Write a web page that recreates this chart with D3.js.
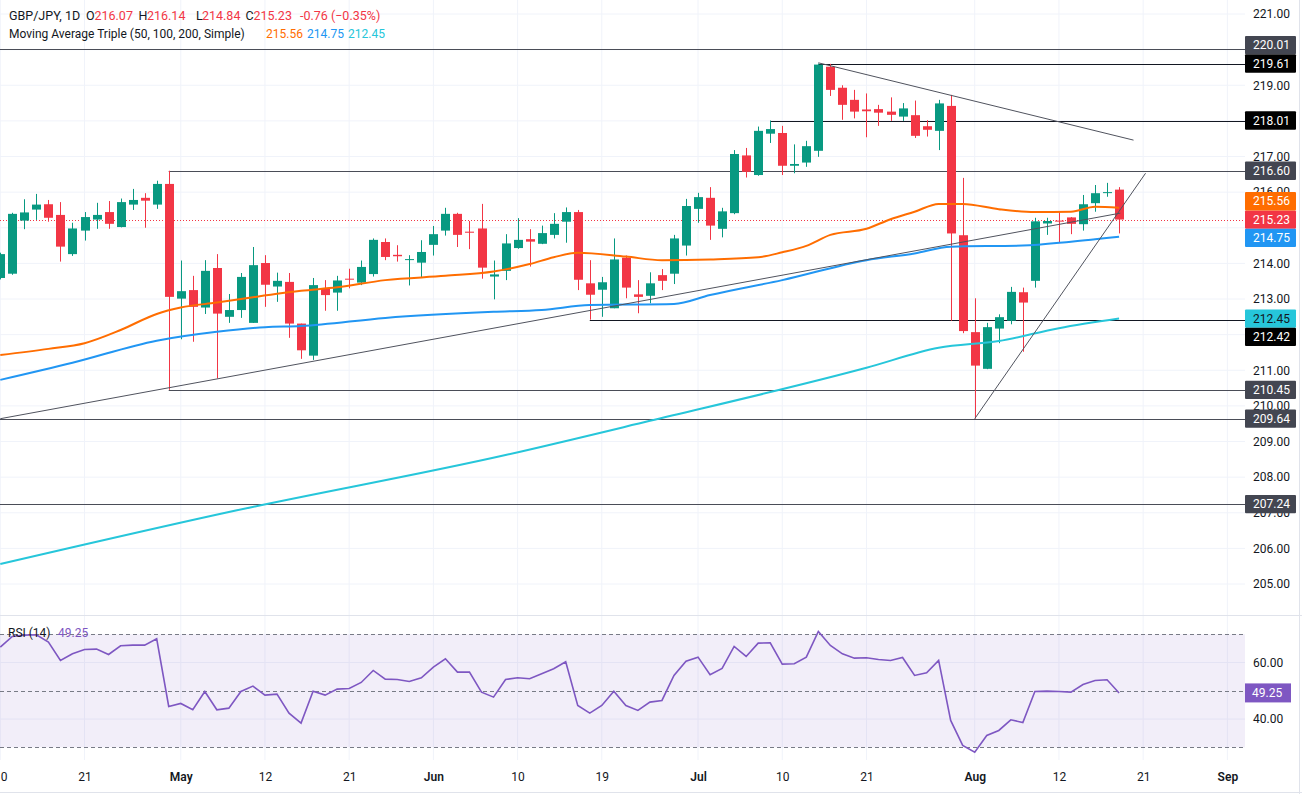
<!DOCTYPE html>
<html>
<head>
<meta charset="utf-8">
<script src="https://cdn.jsdelivr.net/npm/d3@7"></script>
<style>
  body { margin: 0; background: #ffffff; }
  #chart text { font-family: Roboto, "DejaVu Sans", sans-serif; }
</style>
</head>
<body>
<div id="chart"></div>
<script>

// daily GBP/JPY candles, one entry per trading day
var opens = [213.59, 213.71, 215.20, 215.51, 215.66, 215.36, 214.26, 214.92, 215.23, 215.44, 215.02, 215.65, 215.84, 215.65,
    216.23, 213.01, 213.25, 212.76, 213.87, 212.50, 212.69, 212.33, 214.01, 213.35, 213.48, 212.31,
    211.41, 213.28, 213.18, 213.57, 213.46, 213.70, 214.60, 214.24, 214.10, 214.02, 214.52, 214.92, 215.39, 214.89,
    214.98, 213.63, 213.79, 214.43, 214.68, 214.55, 214.80, 215.17, 215.44, 213.44, 213.26, 212.74, 214.16, 213.13, 213.09, 213.67,
    213.71, 214.50, 215.53, 215.84, 214.97, 215.41, 217.03, 216.48, 217.64, 217.66, 216.74, 216.83,
    217.16, 219.52, 218.93, 218.59, 218.32, 218.33, 218.26, 218.12, 218.16, 217.85, 217.72,
    218.42, 214.79, 212.07, 211.04, 212.17, 212.39, 213.19, 213.51, 215.12, 215.20, 215.29, 215.10, 215.69, 215.98, 216.07];
var highs = [214.30, 215.42, 215.80, 215.95, 215.78, 215.72, 215.14, 215.44, 215.70, 215.75, 215.82, 216.09, 215.97, 216.32,
    216.60, 214.08, 213.65, 214.09, 214.26, 213.14, 213.73, 214.46, 214.23, 213.74, 213.73, 212.31,
    213.59, 213.53, 213.65, 213.85, 214.08, 214.70, 214.70, 214.51, 214.23, 214.65, 215.05, 215.56, 215.42, 215.19,
    215.67, 214.08, 214.82, 215.27, 214.96, 215.06, 215.41, 215.57, 215.50, 214.09, 213.62, 214.70, 214.22, 213.53, 213.75, 213.84,
    214.80, 215.81, 215.98, 216.14, 215.56, 217.18, 217.24, 217.84, 218.01, 217.86, 217.34, 217.44,
    219.61, 219.60, 219.00, 218.87, 218.77, 218.45, 218.66, 218.50, 218.57, 218.02, 218.59,
    218.73, 216.40, 213.02, 212.33, 212.57, 213.34, 213.32, 215.28, 215.28, 215.45, 215.30, 215.92, 216.20, 216.26, 216.14];
var lows = [213.55, 213.68, 214.96, 215.22, 215.17, 214.05, 214.21, 214.64, 214.97, 214.97, 215.01, 215.50, 215.00, 215.53,
    210.45, 211.87, 211.80, 212.58, 210.77, 212.33, 212.47, 212.33, 212.78, 212.92, 211.91, 211.32,
    211.29, 212.67, 212.67, 213.30, 213.39, 213.63, 214.09, 214.05, 213.38, 213.61, 214.22, 214.78, 214.46, 214.40,
    213.57, 212.99, 213.53, 214.41, 213.91, 214.54, 214.70, 214.58, 213.25, 212.42, 212.50, 212.74, 213.02, 212.60, 212.88, 213.25,
    213.42, 214.22, 215.14, 214.66, 214.73, 215.38, 216.41, 216.46, 217.38, 216.48, 216.53, 216.71,
    216.99, 218.70, 218.03, 218.07, 217.54, 217.86, 218.00, 218.00, 217.52, 217.56, 217.18,
    212.39, 212.04, 209.64, 211.03, 211.76, 212.29, 211.52, 213.32, 214.80, 214.58, 214.82, 214.92, 215.45, 215.87, 214.84];
var closes = [214.26, 215.39, 215.43, 215.65, 215.28, 214.47, 214.98, 215.30, 215.36, 215.11, 215.72, 215.78, 215.76, 216.23,
    213.06, 213.22, 212.78, 213.79, 212.59, 212.69, 213.62, 213.95, 213.40, 213.51, 212.31, 211.56,
    213.39, 213.11, 213.52, 213.55, 213.90, 214.66, 214.18, 214.20, 214.12, 214.32, 214.82, 215.39, 214.80, 214.86,
    213.88, 213.69, 214.56, 214.66, 214.61, 214.85, 215.11, 215.44, 213.54, 213.12, 213.47, 214.11, 213.32, 213.06, 213.44, 213.51,
    214.70, 215.61, 215.86, 215.06, 215.46, 217.07, 216.57, 217.72, 217.77, 216.74, 216.79, 217.29,
    219.58, 218.87, 218.45, 218.26, 218.27, 218.23, 218.17, 218.35, 217.58, 217.75, 218.49,
    214.84, 212.10, 211.13, 212.21, 212.49, 213.20, 212.90, 215.18, 215.19, 215.18, 215.11, 215.66, 215.97, 216.00, 215.23];

// RSI(14), one value per candle
var rsiValues = [65.46, 69.23, 69.70, 69.82, 67.23, 60.74, 63.10, 64.63, 64.75, 62.86, 65.93, 66.17, 66.17, 68.41,
    44.45, 45.52, 43.27, 49.76, 43.27, 43.86, 49.76, 51.65, 48.47, 48.82, 42.09, 38.55,
    49.88, 48.47, 50.59, 50.83, 52.95, 57.20, 54.13, 54.01, 53.30, 54.60, 58.38, 61.33, 56.61, 56.61,
    49.53, 47.76, 54.01, 54.60, 54.25, 56.02, 57.79, 60.27, 44.81, 42.09, 44.81, 49.88, 44.81, 43.04, 45.99, 46.58,
    55.43, 60.50, 61.92, 55.66, 57.91, 65.69, 62.15, 66.87, 66.99, 59.44, 59.56, 61.92,
    71.00, 66.05, 63.10, 61.56, 61.68, 61.09, 60.74, 61.80, 55.43, 56.37, 60.74,
    39.50, 30.65, 28.29, 34.19, 35.96, 39.73, 38.79, 49.76, 49.88, 49.76, 49.53, 52.24, 53.66, 53.89, 49.25];

// moving averages at a few candles
var ma50Idx = [0, 4, 7, 10, 13, 15, 18, 21, 25, 28, 32, 37, 41, 44, 46, 48, 52, 55, 59, 63, 65, 67, 69, 72, 74, 76, 78, 80, 83, 86, 89, 91, 93];
var ma50 = [211.43, 211.60, 211.76, 212.13, 212.58, 212.76, 212.90, 213.05, 213.23, 213.33, 213.53, 213.65, 213.77, 213.98, 214.17, 214.30,
    214.19, 214.09, 214.11, 214.17, 214.31, 214.49, 214.80, 214.97, 215.24, 215.45, 215.67, 215.67, 215.52, 215.44, 215.45, 215.59, 215.56];
var ma100Idx = [0, 6, 13, 18, 22, 25, 32, 41, 45, 49, 56, 59, 65, 72, 76, 79, 85, 89, 93];
var ma100 = [210.73, 211.21, 211.83, 212.08, 212.21, 212.24, 212.47, 212.64, 212.69, 212.83, 212.86, 213.11, 213.53, 214.09, 214.28, 214.47, 214.50, 214.61, 214.75];
var ma200Idx = [0, 19, 42, 54, 72, 78, 83, 88, 93];
var ma200 = [205.56, 207.02, 208.62, 209.58, 211.07, 211.63, 211.82, 212.18, 212.45];

// x axis ticks (candle index -> label)
var tickIdx = [0, 7, 15, 22, 29, 36, 43, 50, 58, 65, 72, 81, 88, 95, 102];
var tickLabels = ["10", "21", "May", "12", "21", "Jun", "10", "19", "Jul", "10", "21", "Aug", "12", "21", "Sep"];
var priceTicks = [205, 206, 207, 208, 209, 210, 211, 212, 213, 214, 215, 216, 217, 218, 219, 220, 221];
var rsiTicks = [40, 60];

// horizontal levels drawn on the chart and the candle they start from
var levelValues = [220.01, 219.61, 218.01, 216.60, 212.42, 210.45, 209.64, 207.24];
var levelStart = [-2, 68, 64, 14, 49, 14, -2, -2];
var levelDark = [false, true, true, false, true, false, false, false];

// trend lines: [index1, price1, index2, price2]
var trendLines = [
    [0, 209.64, 93.1, 215.41],
    [81, 209.64, 95.2, 216.53],
    [68, 219.63, 94.2, 217.46]
];

var lastPrice = 215.23;

var W = 1302, H = 794;
var plotRight = 1245;
var paneBottom = 615;

var green = "#089981", red = "#f23645";
var cOrange = "#ff6d00", cBlue = "#2196f3", cCyan = "#26c6da", cRsi = "#7e57c2";

var candles = closes.map(function (c, i) {
    return {i: i, o: opens[i], h: highs[i], l: lows[i], c: c};
});

var x = d3.scaleLinear().domain([0, 93]).range([0.3, 0.3 + 12.03 * 93]);
var y = d3.scaleLinear().domain([205, 221]).range([584, 14]);
var yRsi = d3.scaleLinear().domain([30, 70]).range([747.3, 634.3]);

var svg = d3.select("#chart").append("svg")
    .attr("width", W)
    .attr("height", H)
    .style("display", "block");

svg.append("rect").attr("width", W).attr("height", H).attr("fill", "#ffffff");

var defs = svg.append("defs");
defs.append("clipPath").attr("id", "clipPrice")
    .append("rect").attr("x", 0).attr("y", 0).attr("width", plotRight).attr("height", paneBottom);
defs.append("clipPath").attr("id", "clipRsi")
    .append("rect").attr("x", 0).attr("y", paneBottom + 2).attr("width", plotRight).attr("height", 760 - paneBottom - 2);

// grid
var grid = svg.append("g").attr("class", "grid");
grid.selectAll(".vgrid")
    .data(tickIdx)
    .enter().append("line")
    .attr("x1", function (d) { return x(d); })
    .attr("x2", function (d) { return x(d); })
    .attr("y1", 0)
    .attr("y2", 760)
    .attr("stroke", "#f0f3fa");
grid.selectAll(".hgrid")
    .data(priceTicks)
    .enter().append("line")
    .attr("x1", 0)
    .attr("x2", plotRight)
    .attr("y1", function (d) { return y(d); })
    .attr("y2", function (d) { return y(d); })
    .attr("stroke", "#f0f3fa")
    .attr("clip-path", "url(#clipPrice)");
grid.selectAll(".rgrid")
    .data(rsiTicks)
    .enter().append("line")
    .attr("x1", 0)
    .attr("x2", plotRight)
    .attr("y1", function (d) { return yRsi(d); })
    .attr("y2", function (d) { return yRsi(d); })
    .attr("stroke", "#f0f3fa");

// pane separators
svg.append("line").attr("x1", 0).attr("x2", W).attr("y1", paneBottom + 0.5).attr("y2", paneBottom + 0.5)
    .attr("stroke", "#e0e3eb");
svg.append("line").attr("x1", 0).attr("x2", W).attr("y1", 792.5).attr("y2", 792.5)
    .attr("stroke", "#e0e3eb");
svg.append("line").attr("x1", 1299.5).attr("x2", 1299.5).attr("y1", 0).attr("y2", H)
    .attr("stroke", "#e0e3eb");

var price = svg.append("g").attr("clip-path", "url(#clipPrice)");

// levels
price.selectAll(".level")
    .data(levelValues)
    .enter().append("line")
    .attr("class", "level")
    .attr("x1", function (d, i) { return x(levelStart[i]); })
    .attr("x2", plotRight)
    .attr("y1", function (d) { return Math.round(y(d)) + 0.5; })
    .attr("y2", function (d) { return Math.round(y(d)) + 0.5; })
    .attr("stroke", function (d, i) { return levelDark[i] ? "#131722" : "#4a4d57"; })
    .attr("stroke-width", 1.2);

// last price dotted line
price.append("line")
    .attr("x1", 0)
    .attr("x2", plotRight)
    .attr("y1", Math.round(y(lastPrice)) + 0.5)
    .attr("y2", Math.round(y(lastPrice)) + 0.5)
    .attr("stroke", red)
    .attr("stroke-dasharray", "1,2");

// candles
var candle = price.selectAll(".candle")
    .data(candles)
    .enter().append("g")
    .attr("class", "candle");

candle.append("line")
    .attr("x1", function (d) { return Math.round(x(d.i)) + 0.5; })
    .attr("x2", function (d) { return Math.round(x(d.i)) + 0.5; })
    .attr("y1", function (d) { return y(d.h); })
    .attr("y2", function (d) { return y(d.l); })
    .attr("stroke", function (d) { return d.c >= d.o ? green : red; });

candle.append("rect")
    .attr("x", function (d) { return Math.round(x(d.i)) - 4; })
    .attr("width", 9)
    .attr("y", function (d) { return y(Math.max(d.o, d.c)); })
    .attr("height", function (d) { return Math.max(1, Math.abs(y(d.o) - y(d.c))); })
    .attr("fill", function (d) { return d.c >= d.o ? green : red; });

// moving averages
function maLine(idx, vals) {
    return d3.line()
        .x(function (d) { return x(idx[d]); })
        .y(function (d) { return y(vals[d]); })
        .curve(d3.curveMonotoneX)(d3.range(idx.length));
}

price.append("path").attr("d", maLine(ma200Idx, ma200))
    .attr("fill", "none").attr("stroke", cCyan).attr("stroke-width", 2);
price.append("path").attr("d", maLine(ma100Idx, ma100))
    .attr("fill", "none").attr("stroke", cBlue).attr("stroke-width", 2);
price.append("path").attr("d", maLine(ma50Idx, ma50))
    .attr("fill", "none").attr("stroke", cOrange).attr("stroke-width", 2);

// trend lines
price.selectAll(".trend")
    .data(trendLines)
    .enter().append("line")
    .attr("class", "trend")
    .attr("x1", function (d) { return x(d[0]); })
    .attr("y1", function (d) { return y(d[1]); })
    .attr("x2", function (d) { return x(d[2]); })
    .attr("y2", function (d) { return y(d[3]); })
    .attr("stroke", "#50535e")
    .attr("stroke-width", 1);

// price tags on the axis (placed first so covered axis labels can be dropped)
var tags = [
    {v: lastPrice, bg: red, fg: "#ffffff"},
    {v: ma100[ma100.length - 1], bg: cBlue, fg: "#ffffff"},
    {v: ma200[ma200.length - 1], bg: cCyan, fg: "#131722"},
    {v: 219.61, bg: "#000000", fg: "#ffffff"},
    {v: 218.01, bg: "#000000", fg: "#ffffff"},
    {v: 216.60, bg: "#434651", fg: "#ffffff"},
    {v: 210.45, bg: "#434651", fg: "#ffffff"},
    {v: 209.64, bg: "#434651", fg: "#ffffff"},
    {v: 207.24, bg: "#434651", fg: "#ffffff"},
    {v: 220.01, bg: "#434651", fg: "#ffffff"},
    {v: ma50[ma50.length - 1], bg: cOrange, fg: "#ffffff"},
    {v: 212.42, bg: "#000000", fg: "#ffffff"}
];
var tagH = 18.3;
var placed = [];
tags.forEach(function (t) {
    var ny = y(t.v);
    var hit = placed.filter(function (p) { return Math.abs(p - ny) < tagH; });
    if (hit.length) {
        var up = d3.min(hit) - tagH, down = d3.max(hit) + tagH;
        ny = (ny - up < down - ny) ? up : down;
    }
    t.py = ny;
    placed.push(ny);
});

// price axis
var shownTicks = priceTicks.filter(function (d) {
    return y(d) < paneBottom - 8 && !placed.some(function (p) { return Math.abs(p - y(d)) < 8.2; });
});
var yAxis = d3.axisRight(y)
    .tickValues(shownTicks)
    .tickFormat(d3.format(".2f"))
    .tickSize(0)
    .tickPadding(8);

var yAxisG = svg.append("g")
    .attr("transform", "translate(" + plotRight + ",0)")
    .call(yAxis);
yAxisG.select(".domain").remove();
yAxisG.selectAll("text")
    .attr("fill", "#131722")
    .style("font-size", "12px");

var tag = svg.selectAll(".tag")
    .data(tags)
    .enter().append("g")
    .attr("class", "tag")
    .attr("transform", function (d) { return "translate(" + plotRight + "," + d.py + ")"; });
tag.append("rect")
    .attr("x", 0)
    .attr("y", -tagH / 2)
    .attr("width", 51)
    .attr("height", tagH)
    .attr("rx", 1)
    .attr("fill", function (d) { return d.bg; });
tag.append("text")
    .attr("x", 8)
    .attr("dy", "0.35em")
    .attr("fill", function (d) { return d.fg; })
    .style("font-size", "12px")
    .text(function (d) { return d.v.toFixed(2); });

// RSI pane
var rsiG = svg.append("g").attr("clip-path", "url(#clipRsi)");
rsiG.append("rect")
    .attr("x", 0)
    .attr("width", plotRight)
    .attr("y", yRsi(70))
    .attr("height", yRsi(30) - yRsi(70))
    .attr("fill", cRsi)
    .attr("fill-opacity", 0.1);
rsiG.selectAll(".band")
    .data([70, 50, 30])
    .enter().append("line")
    .attr("x1", 0)
    .attr("x2", plotRight)
    .attr("y1", function (d) { return Math.round(yRsi(d)) + 0.5; })
    .attr("y2", function (d) { return Math.round(yRsi(d)) + 0.5; })
    .attr("stroke", "#787b86")
    .attr("stroke-dasharray", "4,3");
rsiG.append("path")
    .attr("d", d3.line()
        .x(function (d, i) { return x(i); })
        .y(function (d) { return yRsi(d); })(rsiValues))
    .attr("fill", "none")
    .attr("stroke", cRsi)
    .attr("stroke-width", 1.6);

var rAxis = d3.axisRight(yRsi)
    .tickValues(rsiTicks)
    .tickFormat(d3.format(".2f"))
    .tickSize(0)
    .tickPadding(8);
var rAxisG = svg.append("g")
    .attr("transform", "translate(" + plotRight + ",0)")
    .call(rAxis);
rAxisG.select(".domain").remove();
rAxisG.selectAll("text").attr("fill", "#131722").style("font-size", "12px");

var rsiLast = rsiValues[rsiValues.length - 1];
var rTag = svg.append("g").attr("transform", "translate(" + plotRight + "," + yRsi(rsiLast) + ")");
rTag.append("rect").attr("x", 0).attr("y", -9.5).attr("width", 46).attr("height", 19).attr("fill", cRsi);
rTag.append("text").attr("x", 7).attr("dy", "0.35em").attr("fill", "#ffffff")
    .style("font-size", "12px").text(rsiLast.toFixed(2));

svg.append("text").attr("x", 8).attr("y", 637).attr("fill", "#131722").style("font-size", "12px").text("RSI (14)");
svg.append("text").attr("x", 58).attr("y", 637).attr("fill", cRsi).style("font-size", "12px").text(rsiLast.toFixed(2));

// time axis
var xAxis = d3.axisBottom(x)
    .tickValues(tickIdx)
    .tickFormat(function (d, i) { return tickLabels[i]; })
    .tickSize(0)
    .tickPadding(12);
var xAxisG = svg.append("g")
    .attr("transform", "translate(0,760)")
    .call(xAxis);
xAxisG.select(".domain").remove();
xAxisG.selectAll("text")
    .attr("fill", "#131722")
    .style("font-size", "12px")
    .style("font-weight", function (d, i) { return isNaN(+tickLabels[i]) ? "600" : "400"; });

// legend header
var head1 = [
    {t: "GBP/JPY, 1D", x: 9, c: "#131722"},
    {t: "O", x: 86, c: "#131722"}, {t: opens[93].toFixed(2), x: 94.5, c: red},
    {t: "H", x: 138.5, c: "#131722"}, {t: highs[93].toFixed(2), x: 147, c: red},
    {t: "L", x: 196, c: "#131722"}, {t: lows[93].toFixed(2), x: 202, c: red},
    {t: "C", x: 245.5, c: "#131722"}, {t: closes[93].toFixed(2), x: 253.5, c: red},
    {t: "-0.76 (\u22120.35%)", x: 300, c: red}
];
var head2 = [
    {t: "Moving Average Triple (50, 100, 200, Simple)", x: 9, c: "#131722"},
    {t: ma50[ma50.length - 1].toFixed(2), x: 266, c: cOrange},
    {t: ma100[ma100.length - 1].toFixed(2), x: 307, c: cBlue},
    {t: ma200[ma200.length - 1].toFixed(2), x: 348, c: cCyan}
];
svg.selectAll(".h1")
    .data(head1)
    .enter().append("text")
    .attr("x", function (d) { return d.x; })
    .attr("y", 20)
    .attr("fill", function (d) { return d.c; })
    .style("font-size", "12.5px")
    .text(function (d) { return d.t; });
svg.selectAll(".h2")
    .data(head2)
    .enter().append("text")
    .attr("x", function (d) { return d.x; })
    .attr("y", 38)
    .attr("fill", function (d) { return d.c; })
    .style("font-size", "12px")
    .text(function (d) { return d.t; });

</script>
</body>
</html>
